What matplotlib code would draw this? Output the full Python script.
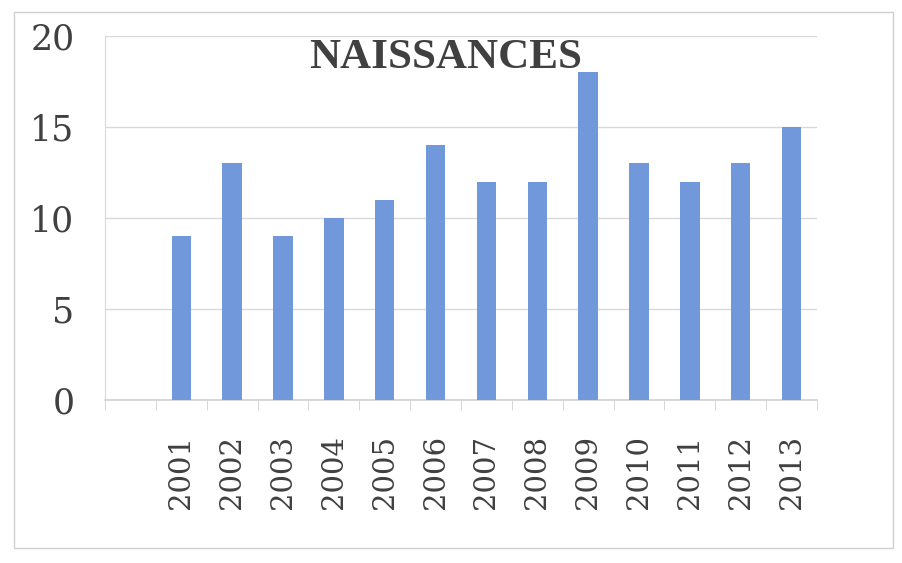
import matplotlib
matplotlib.use("Agg")
import matplotlib.pyplot as plt
from matplotlib.patches import Rectangle

categories = ["", "2001", "2002", "2003", "2004", "2005", "2006", "2007",
              "2008", "2009", "2010", "2011", "2012", "2013"]
values = [0, 9, 13, 9, 10, 11, 14, 12, 12, 18, 13, 12, 13, 15]
yticks = [0, 5, 10, 15, 20]
title = "NAISSANCES"

fig = plt.figure(figsize=(9.02, 5.63), dpi=100)
fig.patch.set_facecolor("white")
fig.patches.append(Rectangle((14/902, 1-548/563), (893-14)/902, (548-12)/563,
                             transform=fig.transFigure, fill=False,
                             edgecolor="#d0d0d0", linewidth=1.0))

ax = fig.add_axes([105/902, 1-400/563, (817-105)/902, (400-36)/563])
x = list(range(len(categories)))
ax.bar(x[1:], values[1:], width=0.38, color="#7098da", zorder=3)
ax.set_xlim(-0.5, len(categories)-0.5)
ax.set_ylim(0, 20)
ax.set_yticks(yticks)
ax.set_yticklabels([str(v) for v in yticks], fontsize=25, family="DejaVu Serif",
                   color="#404040")
ax.set_xticks(x)
ax.set_xticklabels(categories, rotation=90, fontsize=21, family="DejaVu Serif",
                   color="#404040")
ax.set_xticks([i - 0.5 for i in range(len(categories)+1)], minor=True)
ax.tick_params(axis="x", which="major", length=0, pad=25)
ax.tick_params(axis="x", which="minor", length=7, color="#d0d0d0")
ax.tick_params(axis="y", length=0, pad=22)
ax.grid(axis="y", color="#d9d9d9", linewidth=1.0, zorder=0)
for s in ["top", "right"]:
    ax.spines[s].set_visible(False)
ax.spines["left"].set_color("#d9d9d9")
ax.spines["bottom"].set_color("#d0d0d0")
ax.spines["bottom"].set_linewidth(1.2)

fig.text(446/902, 1-58/563, title, ha="center", va="center", fontsize=31,
         fontweight="bold", family="Liberation Serif", color="#404040")

fig.savefig("out.png", dpi=100, facecolor="white")
